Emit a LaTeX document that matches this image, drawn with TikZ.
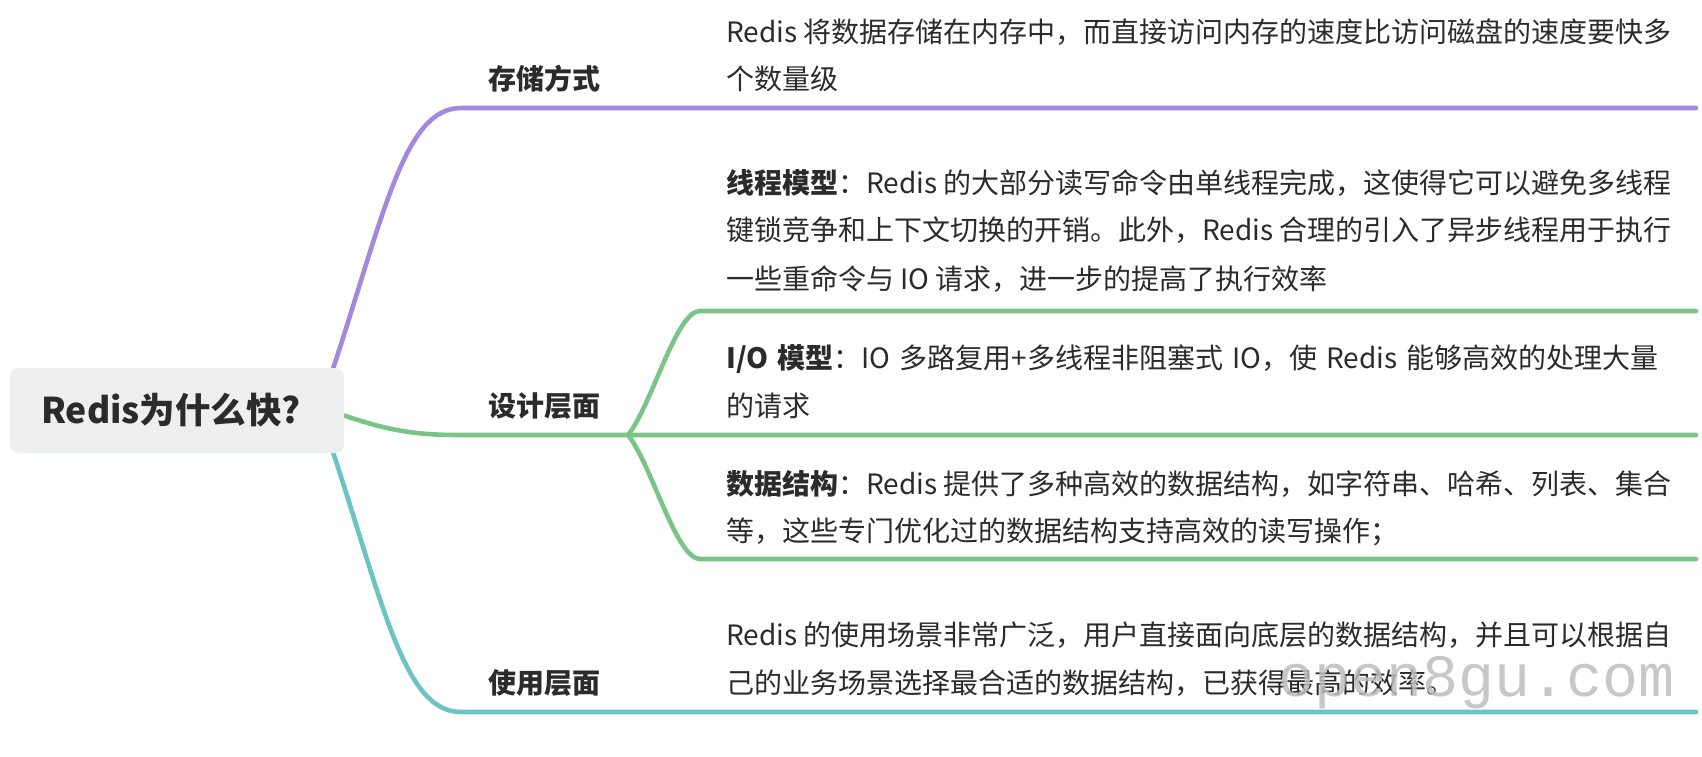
\documentclass[tikz,border=0pt]{standalone}
\usepackage{fontspec}
\setmainfont{Noto Sans CJK SC}
\newfontfamily\wmfont{Liberation Mono}
\newcommand\fullline[2]{\makebox[#1pt][s]{#2}}
\usetikzlibrary{calc}
\pgfdeclarelayer{background}
\pgfsetlayers{background,main}
\definecolor{pur}{HTML}{A488DC}
\definecolor{grn}{HTML}{7BC487}
\definecolor{teal2}{HTML}{6BC4C3}
\definecolor{rootgray}{HTML}{EEF0EF}
\definecolor{ink}{HTML}{2B2B2B}
\definecolor{wmgray}{HTML}{BDBDBD}
\begin{document}
\begin{tikzpicture}[x=1pt,y=-1pt,
  link/.style={line width=4.6pt, line cap=round, line join=round},
  body/.style={anchor=base west, inner sep=0pt, text=ink, font=\fontsize{28}{34}\selectfont},
  cat/.style={body, font=\fontsize{28}{34}\selectfont\bfseries},
  rootbox/.style={anchor=west, fill=rootgray, rounded corners=8pt, minimum height=85pt,
     text width=272pt, inner xsep=31pt, align=left, text=ink,
     font=\fontsize{35.5}{42}\selectfont\bfseries}]
\useasboundingbox (0,0) rectangle (1702,756);
% root
\node[rootbox] (root) at (10,410.5) {Redis为什么快?};
% category labels
\node[cat] (c1) at (488,89.5) {存储方式};
\node[cat] (c2) at (488,416.5) {设计层面};
\node[cat] (c3) at (488,693.5) {使用层面};
% texts
\node[body] (t1a) at (726,42.5) {Redis 将数据存储在内存中，而直接访问内存的速度比访问磁盘的速度要快多};
\node[body] (t1b) at (726,89.5) {个数量级};
\node[body] (t2a) at (726,193.5) {\textbf{线程模型}：Redis 的大部分读写命令由单线程完成，这使得它可以避免多线程};
\node[body] (t2b) at (726,240.5) {键锁竞争和上下文切换的开销。此外，Redis 合理的引入了异步线程用于执行};
\node[body] (t2c) at (726,289.5) {一些重命令与 IO 请求，进一步的提高了执行效率};
\node[body] (t3a) at (726,368.5) {\fullline{932}{\textbf{I/O 模型}：IO 多路复用+多线程非阻塞式 IO，使 Redis 能够高效的处理大量}};
\node[body] (t3b) at (726,416.5) {的请求};
\node[body] (t4a) at (726,494.5) {\textbf{数据结构}：Redis 提供了多种高效的数据结构，如字符串、哈希、列表、集合};
\node[body] (t4b) at (726,541.5) {等，这些专门优化过的数据结构支持高效的读写操作；};
\node[body] (t5a) at (726,645.5) {Redis 的使用场景非常广泛，用户直接面向底层的数据结构，并且可以根据自};
\node[body] (t5b) at (726,693.5) {己的业务场景选择最合适的数据结构，已获得最高的效率。};
% watermark
\node[anchor=base west, inner sep=0pt, text=wmgray, opacity=0.85,
      font=\wmfont\fontsize{60}{60}\selectfont] (wm) at (1278,696) {open8gu.com};
% junction coordinates
\coordinate (p1) at (461,108);  \coordinate (e1) at (1696,108);
\coordinate (g0) at (461,435);  \coordinate (br) at (628,435);
\coordinate (e3) at (1696,435);
\coordinate (g1) at (700,311);  \coordinate (e2) at (1696,311);
\coordinate (g2) at (700,559);  \coordinate (e4) at (1696,559);
\coordinate (p3) at (461,712);  \coordinate (e5) at (1696,712);
\begin{pgfonlayer}{background}
% purple branch
\draw[link, pur] ([xshift=-11pt]root.north east) .. controls (385,210) and (405,108) .. (p1) -- (e1);
% green branch
\draw[link, grn] ([yshift=-5pt]root.east) .. controls (392,432) and (420,435) .. (g0) -- (br) -- (e3);
\draw[link, grn] (br) .. controls (652,405) and (676,311) .. (g1) -- (e2);
\draw[link, grn] (br) .. controls (652,465) and (676,559) .. (g2) -- (e4);
% teal branch
\draw[link, teal2] ([xshift=-11pt]root.south east) .. controls (385,611) and (405,712) .. (p3) -- (e5);
\end{pgfonlayer}
\end{tikzpicture}
\end{document}
